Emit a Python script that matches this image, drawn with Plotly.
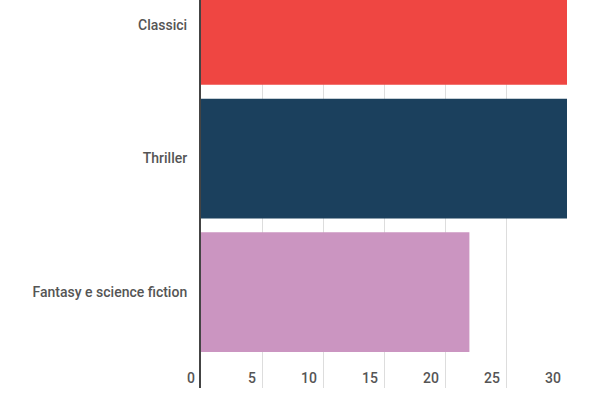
import plotly.graph_objects as go

categories = ["Fantasy e science fiction", "Thriller", "Classici"]
values = [22.0, 30.0, 30.0]
colors = ["#CB95C1", "#1B405D", "#EF4642"]
x_ticks = [0, 5, 10, 15, 20, 25, 30]

fig = go.Figure(go.Bar(
    y=categories, x=values, orientation="h",
    marker=dict(color=colors, line=dict(width=0)),
))

fig.update_layout(
    width=600, height=400,
    margin=dict(l=200.5, r=33, t=0, b=12),
    paper_bgcolor="white", plot_bgcolor="white",
    bargap=0.104,
    showlegend=False,
    font=dict(family="Roboto", size=14, color="#555555"),
)
fig.update_xaxes(
    range=[0, 30], tickvals=x_ticks, ticktext=[str(v) for v in x_ticks],
    showgrid=True, gridcolor="#dddddd", gridwidth=1,
    zeroline=False, showline=False,
    ticklabelposition="inside left",
    ticklabeloverflow="allow",
    ticklabelshift=-6,
    ticklabelstandoff=-4,
    tickfont=dict(family="Roboto", size=14, color="#555555", weight=500),
)
fig.update_yaxes(
    range=[-0.717, 2.187],
    showgrid=False, zeroline=False,
    showline=True, linecolor="#444444", linewidth=2,
    ticks="", ticklabelstandoff=9,
    tickfont=dict(family="Roboto", size=14, color="#555555", weight=500),
)

fig.write_html(
    "out.html",
    config={"displayModeBar": False},
    post_script="document.body.style.margin='0';document.body.style.overflow='hidden';",
)
